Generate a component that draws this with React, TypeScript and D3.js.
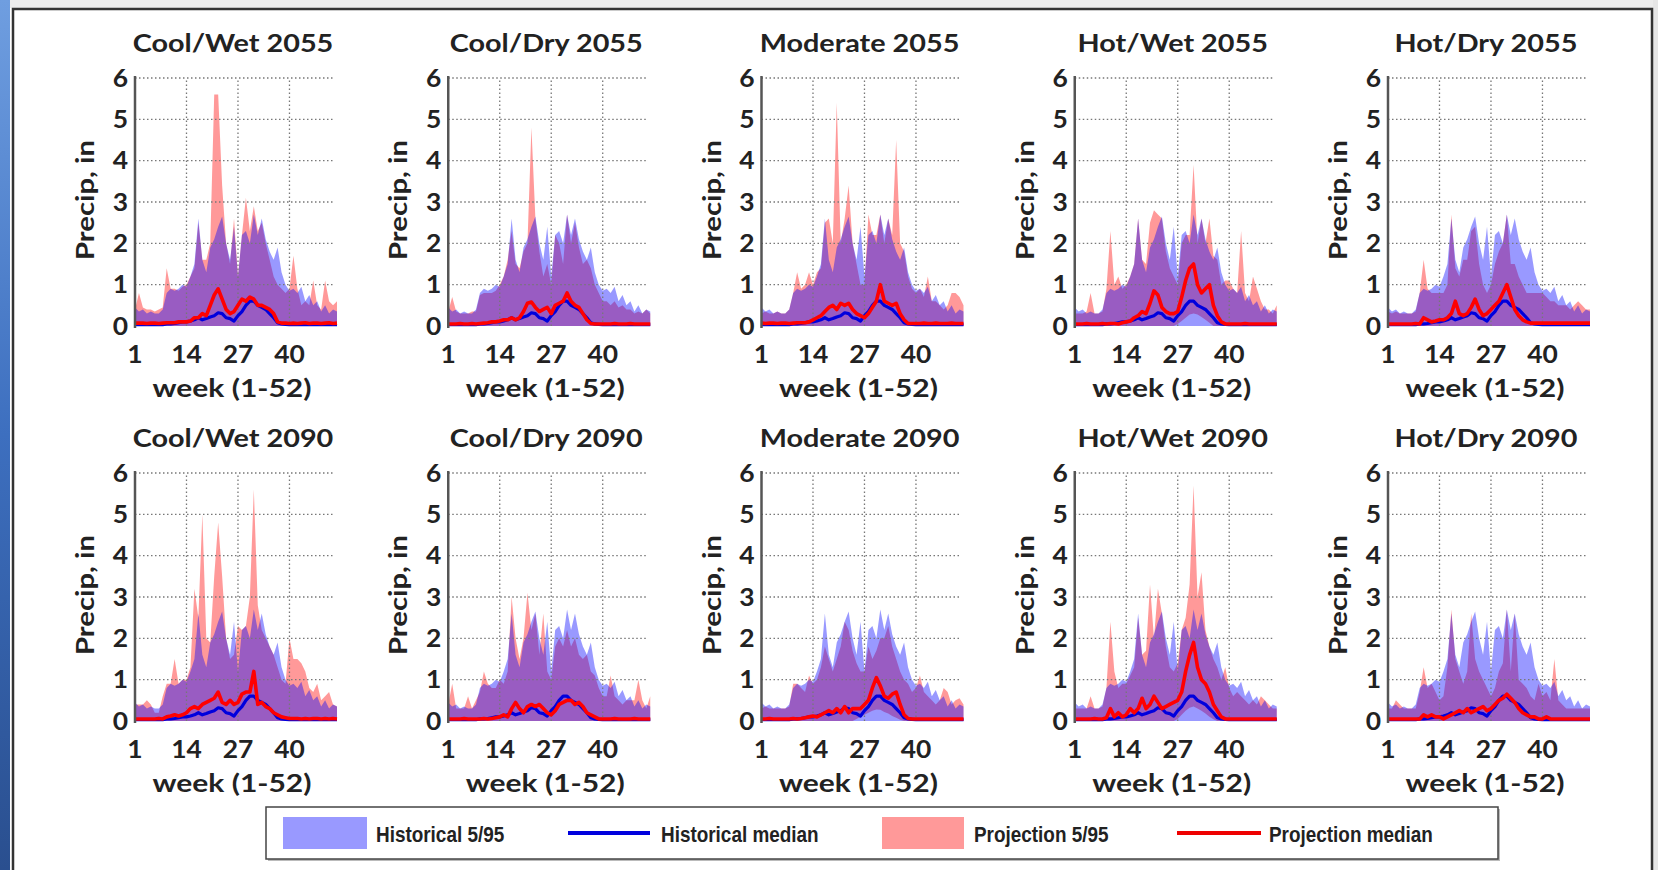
import React from "react";
import * as d3 from "d3";

// ---------------- DATA ----------------
const titles = [
  "Cool/Wet 2055", "Cool/Dry 2055", "Moderate 2055", "Hot/Wet 2055", "Hot/Dry 2055",
  "Cool/Wet 2090", "Cool/Dry 2090", "Moderate 2090", "Hot/Wet 2090", "Hot/Dry 2090",
];
const yTicks = [0, 1, 2, 3, 4, 5, 6];
const xTicks = [1, 14, 27, 40];
const xGrid = [14, 27, 40];

// Historical (same in every panel)
const histP95 = [0.45,0.35,0.4,0.3,0.35,0.3,0.3,0.4,0.8,0.9, 0.85,0.9,1.0,0.95,1.2,1.5,2.6,1.6,1.3,1.9, 2.1,2.4,2.65,2.0,1.6,2.4,1.2,2.2,2.3,2.0, 2.7,2.2,2.6,2.1,1.8,1.6,1.9,1.3,1.0,0.85, 0.9,0.8,0.95,0.6,0.75,0.5,0.6,0.35,0.5,0.3,0.4,0.35];
const histMed = [0.03,0.03,0.03,0.03,0.03,0.03,0.03,0.03,0.05,0.05, 0.06,0.08,0.1,0.1,0.12,0.15,0.2,0.15,0.18,0.22, 0.25,0.32,0.3,0.2,0.18,0.12,0.25,0.35,0.5,0.6, 0.6,0.5,0.45,0.4,0.3,0.2,0.08,0.05,0.04,0.03, 0.03,0.03,0.03,0.03,0.03,0.03,0.03,0.03,0.03,0.03,0.03,0.03];

// Projections: 95th percentile
const p95CoolWet2055 = [0.4,0.8,0.45,0.4,0.4,0.35,0.4,0.45,1.4,0.9, 0.9,0.85,0.95,1.0,1.2,1.4,2.5,1.6,1.6,2.0, 5.6,5.6,3.4,2.0,1.5,2.6,1.2,2.2,3.1,2.3, 2.9,2.3,2.5,2.0,1.6,1.2,1.0,0.9,0.8,0.9, 1.7,0.9,0.5,0.6,0.5,1.1,0.5,0.4,1.1,0.6,0.5,0.6];
const p95CoolDry2055 = [0.35,0.7,0.35,0.3,0.3,0.3,0.35,0.35,0.75,0.8, 0.8,0.8,0.85,1.0,1.2,1.6,2.3,1.5,1.4,1.8, 2.0,4.8,2.6,1.8,1.2,1.5,1.0,2.2,2.0,1.5, 2.7,2.0,2.5,1.9,1.5,1.6,1.4,1.0,0.8,0.6, 0.6,0.5,0.6,0.45,0.5,0.4,0.4,0.3,0.35,0.3,0.4,0.3];
const p95Moderate2055 = [0.3,0.35,0.3,0.3,0.35,0.3,0.3,0.4,0.8,1.3, 0.9,1.0,1.3,1.0,1.3,1.4,2.5,2.6,2.0,5.4, 2.0,2.6,3.4,2.0,1.5,1.0,1.0,2.7,2.2,2.2, 2.7,2.0,2.6,2.2,4.5,2.0,1.8,1.2,0.9,0.8, 0.9,0.7,1.2,0.6,0.6,0.5,0.4,0.5,0.8,0.8,0.7,0.5];
const p95HotWet2055 = [0.3,0.3,0.3,0.35,0.8,0.3,0.3,0.35,0.9,2.3, 1.0,1.2,0.9,1.0,1.2,1.5,2.6,1.6,1.5,2.5, 2.8,2.7,2.6,1.8,1.4,1.2,1.0,2.0,2.2,2.2, 3.9,2.0,2.6,2.0,2.6,1.7,1.6,1.0,1.1,1.1, 0.9,0.8,2.3,0.8,0.6,1.2,0.9,0.6,0.4,0.4,0.3,0.5];
const p95HotDry2055 = [0.35,0.3,0.35,0.3,0.3,0.3,0.3,0.35,0.8,1.6, 0.9,0.8,0.8,0.8,0.8,1.0,2.7,1.4,1.2,1.6, 1.6,2.3,2.4,1.5,1.0,0.8,1.0,1.5,1.8,2.0, 2.7,1.5,1.5,1.2,1.0,0.8,0.8,0.8,0.8,0.8, 0.7,0.6,0.6,0.5,0.5,0.5,0.4,0.5,0.6,0.5,0.4,0.4];
const p95CoolWet2090 = [0.4,0.4,0.4,0.5,0.4,0.2,0.2,0.6,0.9,0.9, 1.5,0.9,1.0,1.0,1.3,3.2,2.5,5.0,2.0,1.9, 3.5,4.8,3.5,2.0,1.5,1.6,2.3,2.2,2.3,3.0, 5.6,2.8,2.2,2.0,1.8,1.6,1.3,1.0,0.9,2.0, 1.5,1.5,1.4,1.2,0.8,0.7,0.9,0.5,0.6,0.7,0.4,0.35];
const p95CoolDry2090 = [0.4,0.9,0.3,0.3,0.3,0.6,0.3,0.5,0.7,1.2, 0.9,0.8,0.8,1.0,0.9,1.2,3.0,2.0,1.5,2.0, 3.1,2.2,2.6,1.6,2.6,1.2,1.0,1.8,2.0,1.8, 2.2,1.8,2.0,1.6,1.5,1.6,1.2,1.1,0.8,0.6, 0.6,1.1,0.6,0.5,0.4,0.5,0.5,0.5,1.0,0.5,0.3,0.6];
const p95Moderate2090 = [0.3,0.35,0.3,0.3,0.3,0.3,0.3,0.35,0.9,0.9, 0.8,0.7,1.1,0.9,1.0,1.3,1.8,1.5,1.2,1.5, 1.8,2.4,2.2,1.7,1.4,1.2,1.2,1.8,1.5,1.7, 2.0,2.0,2.3,1.8,1.5,1.2,1.0,0.9,0.7,0.8, 1.1,0.7,0.6,0.5,0.4,0.5,0.8,0.7,0.4,0.5,0.55,0.4];
const p95HotWet2090 = [0.3,0.3,0.3,0.3,0.6,0.3,0.3,0.35,0.8,2.4, 1.2,0.8,0.9,0.9,1.1,1.3,2.5,1.6,1.7,3.3, 2.0,3.2,2.6,1.8,1.3,1.2,1.4,2.2,2.5,3.3, 5.7,3.0,3.6,2.2,1.8,1.5,1.3,1.0,1.3,0.8, 0.6,0.7,0.6,0.5,0.4,0.5,0.4,0.6,0.5,0.4,0.3,0.3];
const p95HotDry2090 = [0.3,0.3,0.5,0.4,0.3,0.3,0.3,0.3,0.7,1.3, 0.8,0.9,0.7,0.5,0.6,1.3,2.7,1.5,1.2,0.9, 1.2,2.6,1.5,1.2,1.0,0.8,0.6,0.8,1.2,1.4, 2.7,1.2,2.6,1.0,0.9,0.8,0.6,0.5,0.9,0.6, 0.7,0.5,1.5,0.5,0.4,0.3,0.3,0.3,0.3,0.3,0.3,0.3];

// Projections: median
const medCoolWet2055 = [0.07,0.07,0.07,0.06,0.07,0.07,0.06,0.07,0.08,0.08, 0.08,0.1,0.1,0.1,0.12,0.2,0.2,0.3,0.25,0.5, 0.75,0.9,0.65,0.4,0.3,0.35,0.5,0.65,0.6,0.7, 0.65,0.5,0.5,0.45,0.4,0.3,0.1,0.07,0.07,0.06, 0.07,0.06,0.07,0.08,0.06,0.07,0.07,0.06,0.07,0.08,0.06,0.07];
const medCoolDry2055 = [0.05,0.05,0.05,0.06,0.05,0.05,0.06,0.05,0.06,0.07, 0.08,0.1,0.1,0.12,0.15,0.15,0.2,0.15,0.2,0.35, 0.55,0.58,0.45,0.35,0.4,0.45,0.3,0.5,0.55,0.6, 0.8,0.6,0.5,0.45,0.3,0.15,0.06,0.05,0.05,0.05, 0.05,0.05,0.06,0.05,0.05,0.05,0.06,0.05,0.05,0.05,0.05,0.05];
const medModerate2055 = [0.07,0.06,0.07,0.07,0.06,0.07,0.07,0.06,0.07,0.08, 0.08,0.08,0.1,0.15,0.2,0.25,0.35,0.45,0.5,0.4, 0.55,0.5,0.55,0.4,0.3,0.25,0.2,0.3,0.45,0.6, 1.0,0.6,0.55,0.5,0.55,0.3,0.15,0.06,0.06,0.06, 0.06,0.07,0.06,0.06,0.07,0.06,0.06,0.06,0.07,0.06,0.06,0.06];
const medHotWet2055 = [0.05,0.05,0.05,0.06,0.05,0.05,0.05,0.06,0.05,0.06, 0.06,0.05,0.08,0.1,0.12,0.2,0.25,0.35,0.3,0.55, 0.85,0.75,0.45,0.35,0.3,0.3,0.35,0.7,1.1,1.4, 1.5,1.0,0.8,0.9,1.0,0.5,0.25,0.1,0.05,0.05, 0.05,0.05,0.05,0.06,0.05,0.05,0.05,0.05,0.05,0.05,0.05,0.05];
const medHotDry2055 = [0.05,0.05,0.05,0.05,0.05,0.05,0.05,0.06,0.05,0.2, 0.15,0.1,0.12,0.15,0.15,0.2,0.3,0.6,0.3,0.25, 0.3,0.45,0.65,0.4,0.25,0.3,0.4,0.5,0.6,0.8, 1.0,0.7,0.4,0.25,0.15,0.1,0.07,0.07,0.07,0.07, 0.07,0.07,0.07,0.07,0.07,0.07,0.07,0.07,0.07,0.07,0.07,0.07];
const medCoolWet2090 = [0.05,0.05,0.05,0.05,0.05,0.05,0.06,0.05,0.1,0.12, 0.15,0.12,0.15,0.2,0.3,0.35,0.3,0.4,0.45,0.5, 0.55,0.7,0.45,0.4,0.5,0.4,0.45,0.65,0.7,0.7, 1.2,0.4,0.45,0.35,0.3,0.2,0.15,0.1,0.08,0.06, 0.06,0.06,0.05,0.06,0.05,0.06,0.06,0.05,0.06,0.05,0.06,0.05];
const medCoolDry2090 = [0.05,0.05,0.05,0.05,0.06,0.05,0.05,0.05,0.05,0.06, 0.05,0.06,0.08,0.1,0.15,0.1,0.3,0.45,0.3,0.2, 0.35,0.4,0.35,0.4,0.3,0.2,0.15,0.25,0.4,0.45, 0.5,0.5,0.4,0.45,0.35,0.2,0.15,0.1,0.05,0.05, 0.05,0.05,0.06,0.05,0.05,0.05,0.05,0.06,0.05,0.05,0.05,0.05];
const medModerate2090 = [0.05,0.05,0.06,0.05,0.05,0.05,0.05,0.05,0.06,0.05, 0.06,0.08,0.1,0.12,0.1,0.15,0.2,0.25,0.2,0.3, 0.2,0.35,0.2,0.3,0.3,0.3,0.4,0.5,0.8,1.05, 0.85,0.6,0.55,0.65,0.7,0.4,0.15,0.06,0.05,0.05, 0.05,0.05,0.05,0.05,0.05,0.05,0.05,0.05,0.05,0.05,0.05,0.05];
const medHotWet2090 = [0.05,0.05,0.05,0.05,0.05,0.06,0.05,0.05,0.08,0.3, 0.1,0.2,0.1,0.15,0.3,0.2,0.3,0.55,0.3,0.4, 0.6,0.45,0.3,0.35,0.4,0.45,0.5,0.7,1.2,1.6, 1.9,1.3,1.0,0.9,0.7,0.4,0.25,0.1,0.05,0.05, 0.05,0.05,0.05,0.05,0.05,0.05,0.05,0.05,0.05,0.05,0.05,0.05];
const medHotDry2090 = [0.05,0.05,0.05,0.05,0.05,0.05,0.05,0.05,0.05,0.15, 0.1,0.15,0.1,0.1,0.05,0.1,0.15,0.2,0.25,0.2, 0.3,0.2,0.25,0.3,0.35,0.25,0.3,0.4,0.5,0.55, 0.65,0.55,0.45,0.3,0.2,0.15,0.1,0.1,0.05,0.05, 0.1,0.05,0.05,0.05,0.05,0.05,0.05,0.05,0.05,0.05,0.05,0.05];

// Projections: 5th percentile (only where visibly above zero)
const p05HotWet2055 = [0,0,0,0,0,0,0,0,0,0, 0,0,0,0,0,0,0,0,0,0, 0,0,0,0,0,0,0.05,0.12,0.2,0.28, 0.3,0.28,0.22,0.15,0.08,0,0,0,0,0, 0,0,0,0,0,0,0,0,0,0,0,0];
const p05Moderate2090 = [0,0,0,0,0,0,0,0,0,0, 0,0,0,0,0,0,0,0,0,0, 0,0,0,0,0.05,0.1,0.15,0.2,0.25,0.28, 0.27,0.22,0.18,0.12,0.08,0.03,0,0,0,0, 0,0,0,0,0,0,0,0,0,0,0,0];
const p05HotWet2090 = [0,0,0,0,0,0,0,0,0,0, 0,0,0,0,0,0,0,0,0,0, 0,0,0,0,0,0,0.05,0.15,0.25,0.32, 0.35,0.3,0.25,0.18,0.1,0.04,0,0,0,0, 0,0,0,0,0,0,0,0,0,0,0,0];

const legendItems = ["Historical 5/95", "Historical median", "Projection 5/95", "Projection median"];

const panels = [
  { title: titles[0], p95: p95CoolWet2055, med: medCoolWet2055, p05: null },
  { title: titles[1], p95: p95CoolDry2055, med: medCoolDry2055, p05: null },
  { title: titles[2], p95: p95Moderate2055, med: medModerate2055, p05: null },
  { title: titles[3], p95: p95HotWet2055, med: medHotWet2055, p05: p05HotWet2055 },
  { title: titles[4], p95: p95HotDry2055, med: medHotDry2055, p05: null },
  { title: titles[5], p95: p95CoolWet2090, med: medCoolWet2090, p05: null },
  { title: titles[6], p95: p95CoolDry2090, med: medCoolDry2090, p05: null },
  { title: titles[7], p95: p95Moderate2090, med: medModerate2090, p05: p05Moderate2090 },
  { title: titles[8], p95: p95HotWet2090, med: medHotWet2090, p05: p05HotWet2090 },
  { title: titles[9], p95: p95HotDry2090, med: medHotDry2090, p05: null },
];

// ---------------- LAYOUT ----------------
const W = 1658, H = 870;
const COL0 = 135, COLSTEP = 313.25;
const ROWS = [78, 473];
const PW = 202, PH = 248;
const FONT = "Lato, 'Open Sans', sans-serif";
const HIST = "#0000ff", PROJ = "#ff0000";

function Panel({ p, left, top }: any) {
  const x = d3.scaleLinear().domain([1, 52]).range([0, PW]);
  const y = d3.scaleLinear().domain([0, 6]).range([PH, 0]);
  const idx = (_: number, i: number) => x(i + 1);
  const histArea = d3.area<number>().x(idx).y0(y(0)).y1((d) => y(d))(histP95) || "";
  const projArea = d3.area<number>().x(idx).y0((_, i) => y(p.p05 ? p.p05[i] : 0)).y1((d) => y(d))(p.p95) || "";
  const line = d3.line<number>().x(idx).y((d) => y(d));
  const histLine = line(histMed) || "";
  const projLine = line(p.med) || "";
  return (
    <g transform={`translate(${left},${top})`}>
      <text transform={`translate(${PW / 2 - 3},-26) scale(1.2,1)`} textAnchor="middle" fontFamily={FONT} fontWeight={700} fontSize={24} fill="#222">{p.title}</text>
      <path d={projArea} fill={PROJ} fillOpacity={0.4} />
      <path d={histArea} fill={HIST} fillOpacity={0.4} />
      {yTicks.filter((t) => t > 0).map((t) => (
        <line key={"h" + t} x1={0} x2={PW - 2} y1={y(t)} y2={y(t)} stroke="#777" strokeWidth={1.3} strokeDasharray="1.5,2.5" />
      ))}
      {xGrid.map((t) => (
        <line key={"v" + t} x1={x(t)} x2={x(t)} y1={y(0)} y2={y(6)} stroke="#777" strokeWidth={1.3} strokeDasharray="1.5,2.5" />
      ))}
      <path d={histLine} fill="none" stroke="#0000dd" strokeWidth={3.2} strokeLinejoin="round" />
      <path d={projLine} fill="none" stroke="#ff0000" strokeWidth={3.6} strokeLinejoin="round" />
      <line x1={0} x2={0} y1={y(0) + 2} y2={y(6) - 2} stroke="#555" strokeWidth={2.5} />
      {yTicks.map((t) => (
        <text key={"yl" + t} transform={`translate(-7,${y(t) + 8.5}) scale(1.1,1)`} textAnchor="end" fontFamily={FONT} fontWeight={700} fontSize={24} fill="#222">{t}</text>
      ))}
      {xTicks.map((t) => (
        <text key={"xl" + t} transform={`translate(${x(t)},${PH + 37}) scale(1.1,1)`} textAnchor="middle" fontFamily={FONT} fontWeight={700} fontSize={24} fill="#222">{t}</text>
      ))}
      <text x={PW / 2 - 4} y={PH + 71} textAnchor="middle" fontFamily={FONT} fontWeight={700} fontSize={24} fill="#222" textLength={159} lengthAdjust="spacingAndGlyphs">week (1-52)</text>
      <text transform={`translate(-41,${PH / 2 - 2}) rotate(-90)`} textAnchor="middle" fontFamily={FONT} fontWeight={700} fontSize={25} fill="#222" textLength={120} lengthAdjust="spacingAndGlyphs">Precip, in</text>
    </g>
  );
}

export default function App() {
  const legendX = [283, 568, 882, 1177];
  const legendTextX = [376, 661, 974, 1269];
  return (
    <svg width={W} height={H} style={{ position: "absolute", left: 0, top: 0, background: "#fff" }}>
      <defs>
        <linearGradient id="strip" x1="0" y1="0" x2="0" y2="1">
          <stop offset="0" stopColor="#6f9ee0" />
          <stop offset="0.5" stopColor="#3d6fbf" />
          <stop offset="1" stopColor="#2a4f8f" />
        </linearGradient>
      </defs>
      <rect x={0} y={0} width={W} height={H} fill="#fff" />
      <rect x={0} y={0} width={W} height={8} fill="#ececec" />
      <rect x={0} y={0} width={10} height={H} fill="url(#strip)" />
      <rect x={1653} y={0} width={5} height={H} fill="#e6e6e6" />
      <rect x={13} y={9} width={1639} height={H + 20} fill="none" stroke="#333" strokeWidth={2.5} />
      {panels.map((p, i) => (
        <Panel key={i} p={p} left={COL0 + (i % 5) * COLSTEP} top={ROWS[Math.floor(i / 5)]} />
      ))}
      <g>
        <rect x={268} y={809} width={1232} height={52} fill="#bbb" />
        <rect x={266} y={807} width={1232} height={52} fill="#fff" stroke="#444" strokeWidth={1.5} />
        <rect x={legendX[0]} y={817} width={84} height={32} fill={HIST} fillOpacity={0.4} />
        <line x1={legendX[1]} x2={legendX[1] + 82} y1={833} y2={833} stroke="#0000dd" strokeWidth={4} />
        <rect x={legendX[2]} y={817} width={82} height={32} fill={PROJ} fillOpacity={0.4} />
        <line x1={legendX[3]} x2={legendX[3] + 84} y1={833} y2={833} stroke="#ee0000" strokeWidth={4} />
        {legendItems.map((t, i) => (
          <text key={t} transform={`translate(${legendTextX[i]},842) scale(0.86,1)`} fontFamily="'Liberation Sans Narrow', 'Arial Narrow', sans-serif" fontWeight={700} fontSize={22} fill="#222">{t}</text>
        ))}
      </g>
    </svg>
  );
}
